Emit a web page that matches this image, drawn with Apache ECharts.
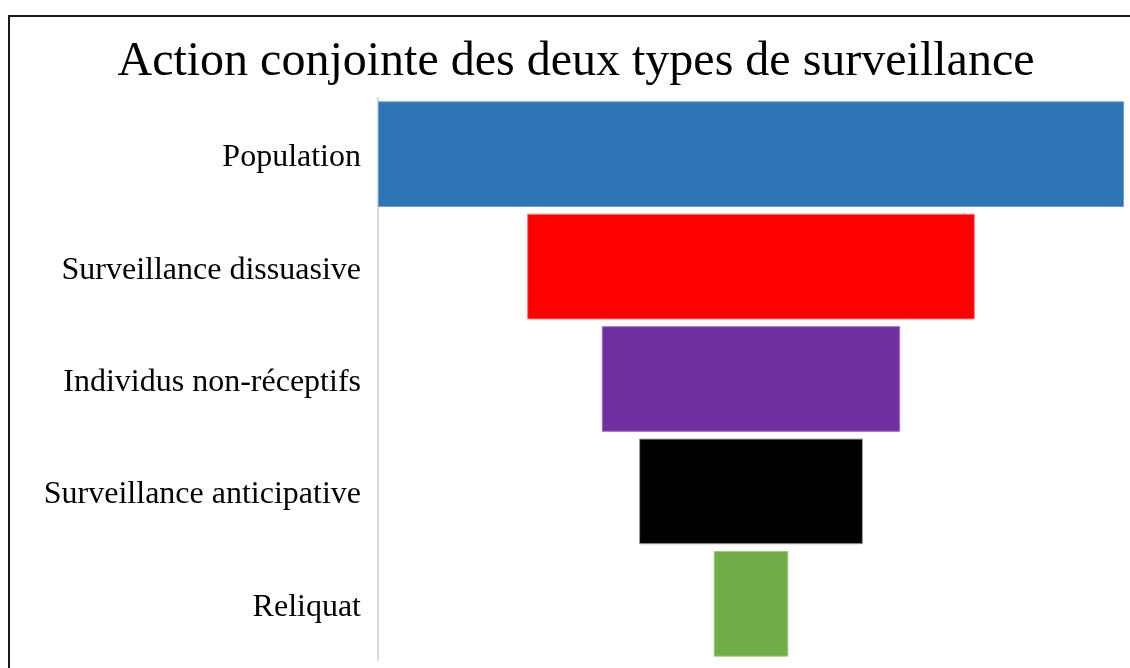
<!DOCTYPE html>
<html>
<head>
<meta charset="utf-8">
<script src="https://cdn.jsdelivr.net/npm/echarts@6/dist/echarts.min.js"></script>
<style>
html,body{margin:0;padding:0;background:#fff;}
#frame{position:absolute;left:8px;top:15px;width:1200px;height:700px;border:2px solid #1a1a1a;box-sizing:border-box;}
#chart{position:absolute;left:0;top:0;width:1130px;height:668px;}
</style>
</head>
<body>
<div id="frame"></div>
<div id="chart"></div>
<script>
var categories = ['Population', 'Surveillance dissuasive', 'Individus non-réceptifs', 'Surveillance anticipative', 'Reliquat'];
var values = [100, 60, 40, 30, 10];
var colors = ['#2E75B6', '#FF0000', '#7030A0', '#000000', '#70AD47'];
var borderColors = ['#6A9FD0', '#FF7070', '#A070C8', '#999999', '#A0CC80'];
var axisMax = 100;

var offsets = values.map(function (v) { return (axisMax - v) / 2; });

var chart = echarts.init(document.getElementById('chart'), null, {renderer: 'canvas'});
chart.setOption({
  animation: false,
  backgroundColor: 'transparent',
  title: {
    text: 'Action conjointe des deux types de surveillance',
    left: 571,
    textAlign: 'center',
    top: 33,
    textStyle: {fontFamily: 'Liberation Serif', fontSize: 48, fontWeight: 'normal', color: '#000'}
  },
  grid: {left: 378, right: 6, top: 98, bottom: 8, containLabel: false},
  xAxis: {type: 'value', min: 0, max: axisMax, show: false},
  yAxis: {
    type: 'category',
    data: categories,
    inverse: true,
    axisLine: {show: true, lineStyle: {color: '#D9D9D9', width: 2}},
    axisTick: {show: false},
    axisLabel: {
      margin: 17,
      formatter: function (v) { return '{a|' + v + '}'; },
      rich: {a: {fontFamily: 'Liberation Serif', fontSize: 32, color: '#000', padding: [7, 0, 0, 0]}}
    }
  },
  series: [
    {
      type: 'bar', stack: 'f', data: offsets, barCategoryGap: '6%',
      itemStyle: {color: 'transparent'}, silent: true
    },
    {
      type: 'bar', stack: 'f', barCategoryGap: '6%',
      data: values.map(function (v, i) {
        return {value: v, itemStyle: {color: colors[i], borderColor: borderColors[i], borderWidth: 1}};
      })
    }
  ]
});
</script>
</body>
</html>
